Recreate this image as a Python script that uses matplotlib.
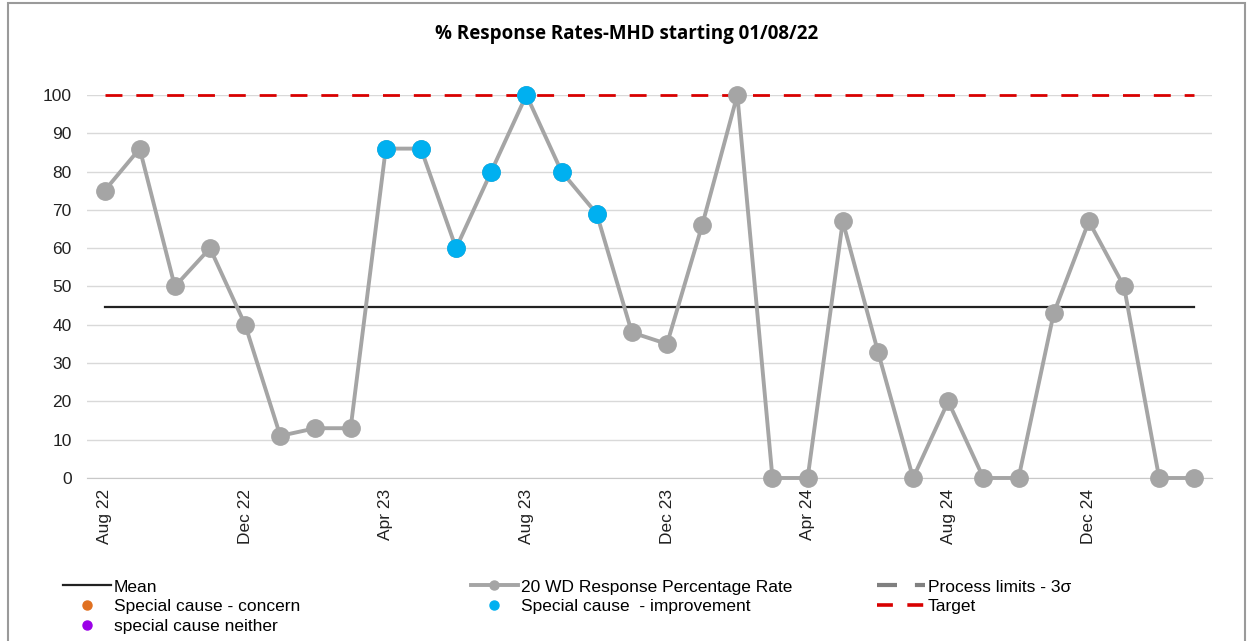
import numpy as np
import matplotlib.pyplot as plt
from matplotlib.lines import Line2D
from matplotlib.patches import Rectangle

plt.rcParams['font.family'] = ['Liberation Sans', 'DejaVu Sans']

months = ['Aug 22', 'Sep 22', 'Oct 22', 'Nov 22', 'Dec 22', 'Jan 23', 'Feb 23', 'Mar 23',
          'Apr 23', 'May 23', 'Jun 23', 'Jul 23', 'Aug 23', 'Sep 23', 'Oct 23', 'Nov 23',
          'Dec 23', 'Jan 24', 'Feb 24', 'Mar 24', 'Apr 24', 'May 24', 'Jun 24', 'Jul 24',
          'Aug 24', 'Sep 24', 'Oct 24', 'Nov 24', 'Dec 24', 'Jan 25', 'Feb 25', 'Mar 25']
rate = [75, 86, 50, 60, 40, 11, 13, 13, 86, 86, 60, 80, 100, 80, 69, 38,
        35, 66, 100, 0, 0, 67, 33, 0, 20, 0, 0, 43, 67, 50, 0, 0]
improvement = [False] * 8 + [True] * 7 + [False] * 17
mean_val = 44.6
target_val = 100

grey = '#A5A5A5'
blue = '#00B0F0'
red = '#D80000'

fig = plt.figure(figsize=(12.53, 6.41), dpi=100)
fig.patches.append(Rectangle((0.0064, -0.02), 0.987, 1.016, transform=fig.transFigure,
                             fill=False, edgecolor='#9A9A9A', linewidth=1.5))
ax = fig.add_axes([0.0694, 0.2543, 0.8978, 0.5975])

x = np.arange(len(months))
imp = np.array(improvement)
ax.plot(x, rate, color=grey, lw=2.8, marker='o', ms=12.5, zorder=3, clip_on=False)
ax.plot(x[imp], np.array(rate)[imp], ls='none', marker='o', ms=12.5,
        color=blue, zorder=4, clip_on=False)
ax.plot([x[0], x[-1]], [mean_val, mean_val], color='#222222', lw=1.6, zorder=2)
ax.plot([x[0], x[-1]], [target_val, target_val], color=red, lw=2.0,
        dashes=(6.1, 5), zorder=2, clip_on=False)

ax.set_xlim(-0.5, len(months) - 0.5)
ax.set_ylim(0, 100)
ax.set_yticks(np.arange(0, 101, 10))
ax.yaxis.grid(True, color='#D9D9D9', lw=1)
ax.set_axisbelow(True)
ax.set_xticks(x[::4], [months[i] for i in x[::4]], rotation=90)
ax.tick_params(length=0, labelsize=12.5, colors='#222222')
ax.tick_params(axis='x', pad=8)
ax.tick_params(axis='y', pad=11)
for s in ['top', 'right', 'left']:
    ax.spines[s].set_visible(False)
ax.spines['bottom'].set_color('#C8C8C8')

fig.text(0.5, 0.947, '% Response Rates-MHD starting 01/08/22', ha='center', va='center',
         fontsize=13.5, fontweight='bold', family=['Open Sans', 'DejaVu Sans'])

# legend, three columns
kw = dict(frameon=False, fontsize=12.5, handlelength=2.75, handletextpad=0.17,
          labelspacing=0.27, borderaxespad=0)
h1 = [Line2D([], [], color='#222222', lw=1.6),
      Line2D([], [], ls='none', marker='o', ms=6.5, color='#E07020'),
      Line2D([], [], ls='none', marker='o', ms=6.5, color='#9B00E8')]
l1 = ['Mean', 'Special cause - concern', 'special cause neither']
h2 = [Line2D([], [], color=grey, lw=2.8, marker='o', ms=6.5),
      Line2D([], [], ls='none', marker='o', ms=6.5, color=blue)]
l2 = ['20 WD Response Percentage Rate', 'Special cause  - improvement']
h3 = [Line2D([], [], color='#808080', lw=3, dashes=(4.8, 4.3)),
      Line2D([], [], color=red, lw=2.6, dashes=(4.4, 4))]
l3 = ['Process limits - 3σ', 'Target']
fig.legend(h1, l1, loc='upper left', bbox_to_anchor=(0.045, 0.107), **kw)
fig.legend(h2, l2, loc='upper left', bbox_to_anchor=(0.37, 0.107), **kw)
fig.legend(h3, l3, loc='upper left', bbox_to_anchor=(0.6946, 0.107), **kw)

fig.savefig('out.png', dpi=100)
